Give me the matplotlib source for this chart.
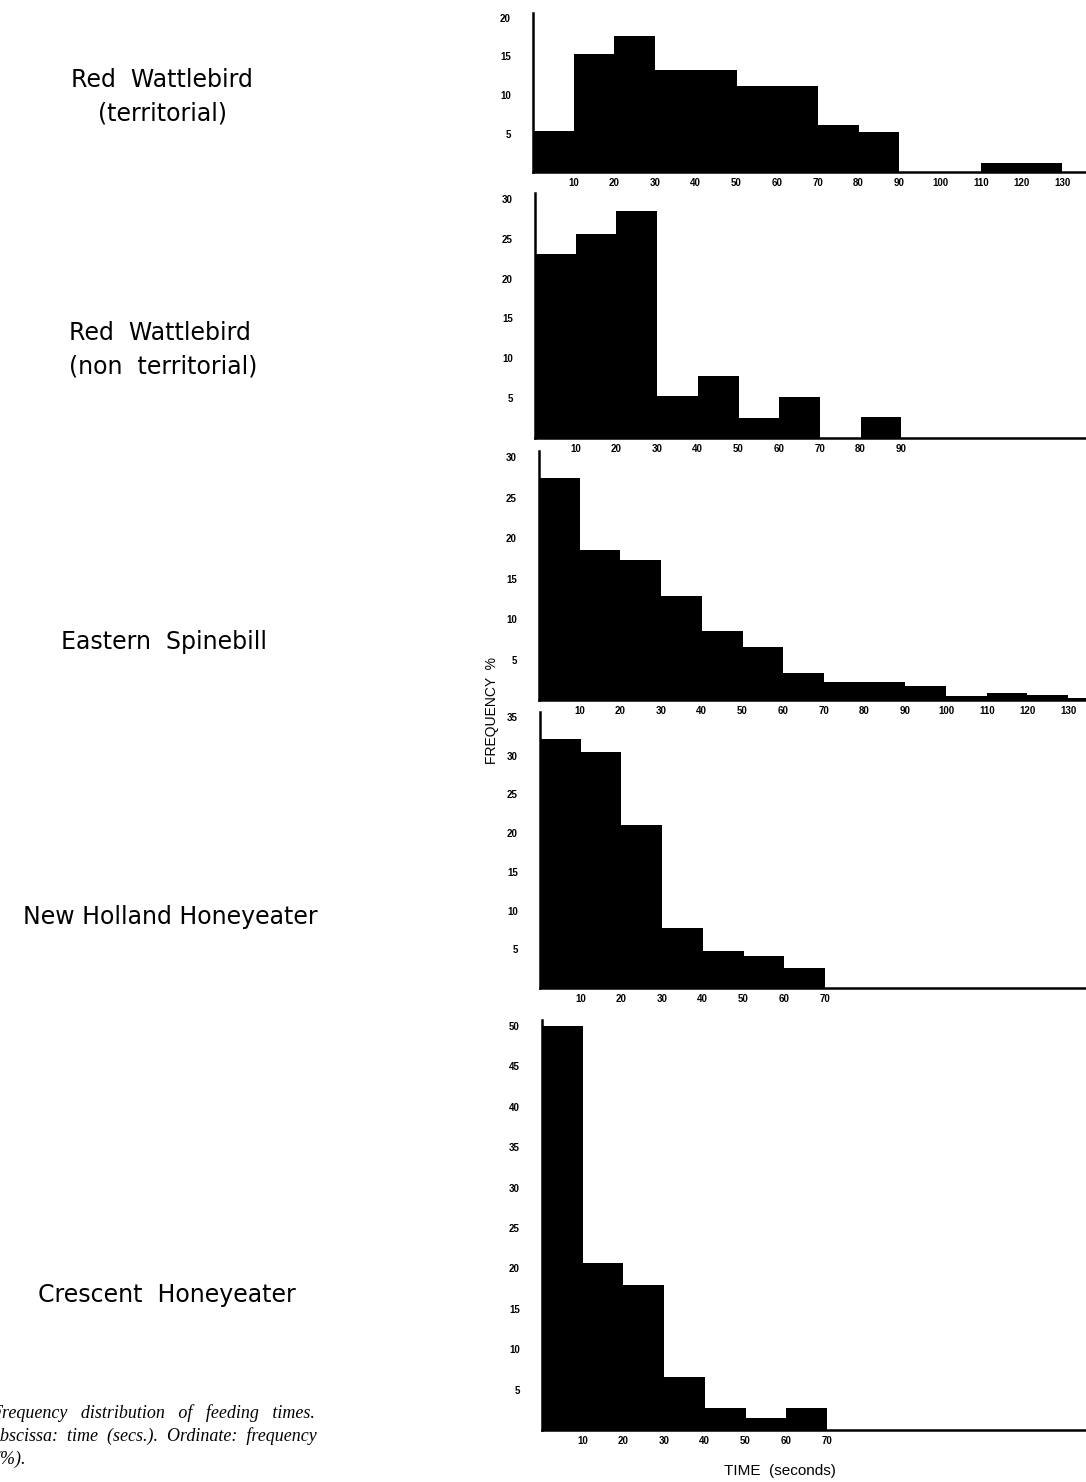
import numpy as np
import matplotlib.pyplot as plt

plt.rcParams['font.family'] = ['Liberation Sans', 'DejaVu Sans']

# feeding time histograms, 10 s bins starting at 0
birds = ["Red  Wattlebird\n(territorial)", "Red  Wattlebird\n(non  territorial)",
         "Eastern  Spinebill", "New Holland Honeyeater", "Crescent  Honeyeater"]
terr = [5.3, 15.3, 17.6, 13.3, 13.3, 11.2, 11.2, 6.1, 5.2, 0, 0, 1.2, 1.2]
nonterr = [23.1, 25.6, 28.5, 5.3, 7.8, 2.5, 5.2, 0, 2.6]
spinebill = [27.4, 18.5, 17.3, 12.8, 8.5, 6.6, 3.3, 2.2, 2.2, 1.7, 0.5, 0.85, 0.6, 0.3]
newholland = [32.2, 30.5, 21.1, 7.7, 4.8, 4.1, 2.6]
crescent = [50.0, 20.7, 18.0, 6.6, 2.7, 1.5, 2.7]
series = [terr, nonterr, spinebill, newholland, crescent]
ymax = [20, 30, 30, 35, 50]
xticks_max = [130, 90, 130, 70, 70]

W, H = 1086, 1482
fig = plt.figure(figsize=(W / 100, H / 100), dpi=100)

# pixel boxes: left, top label, baseline
boxes = [(533, 18, 172), (535, 199, 438), (539, 457, 700), (540, 717, 988), (542, 1026, 1430)]
label_xy = [(162, 97), (163, 350), (164, 642), (170, 917), (167, 1295)]
extra = 0.7  # axis line runs a little past the top label

for i in range(5):
    left, top, base = boxes[i]
    ppu = (base - top) / ymax[i]
    top2 = top - extra * ppu
    ax = fig.add_axes([left / W, 1 - base / H, (W - left) / W, (base - top2) / H])
    vals = series[i]
    x = np.arange(len(vals)) * 10
    ax.bar(x, vals, width=10, align='edge', color='black', linewidth=0)
    ax.set_xlim(0, (W - left) / 4.07)
    ax.set_ylim(0, ymax[i] + extra)
    ax.spines['top'].set_visible(False)
    ax.spines['right'].set_visible(False)
    ax.spines['left'].set_linewidth(1.8)
    ax.spines['bottom'].set_linewidth(1.8)
    ax.set_xticks(np.arange(10, xticks_max[i] + 1, 10))
    ax.set_yticks(np.arange(5, ymax[i] + 1, 5))
    ax.tick_params(length=0, labelsize=7)
    ax.tick_params(axis='y', pad=16)
    ax.tick_params(axis='x', pad=4)
    for t in ax.get_xticklabels() + ax.get_yticklabels():
        t.set_fontweight('bold')
    ax.patch.set_alpha(0)
    lx, ly = label_xy[i]
    fig.text(lx / W, 1 - ly / H, birds[i], ha='center', va='center',
             family='DejaVu Sans', fontsize=17, linespacing=1.5,
             multialignment='left' if i == 1 else 'center')

fig.text(492 / W, 1 - 710 / H, "FREQUENCY  %", rotation=90, ha='center', va='center', fontsize=10)
fig.text(780 / W, 1 - 1471 / H, "TIME  (seconds)", ha='center', va='center', fontsize=11)

cap = dict(family=['Liberation Serif', 'DejaVu Serif'], style='italic', fontsize=13, ha='left', va='center')
fig.text(-9 / W, 1 - 1413 / H, "Frequency   distribution   of   feeding   times.", **cap)
fig.text(-10 / W, 1 - 1436 / H, "Abscissa:  time  (secs.).  Ordinate:  frequency", **cap)
fig.text(-6 / W, 1 - 1459 / H, "(%).", **cap)

fig.savefig("out.png", dpi=100)
